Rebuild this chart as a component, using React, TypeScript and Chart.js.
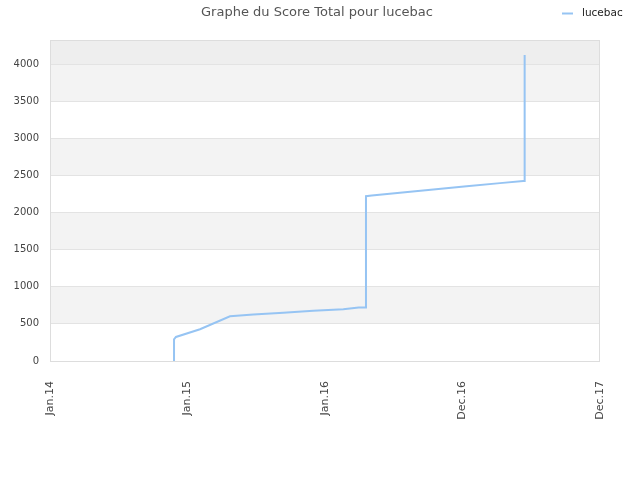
import { useEffect, useRef } from 'react';
import { Chart, registerables } from 'chart.js';

Chart.register(...registerables);

// tick labels of the x axis, one per unit
const xLabels = ['Jan.14', 'Jan.15', 'Jan.16', 'Dec.16', 'Dec.17'];

// score over time (x in tick units)
const pointX = [
  0.902, 0.902, 0.916, 1.091, 1.309, 1.479, 1.697, 1.915, 2.133, 2.245, 2.298,
  2.298, 2.340, 2.545, 2.788, 3.030, 3.273, 3.442, 3.452, 3.452,
];
const pointY = [
  0, 293, 324, 428, 602, 626, 649, 676, 698, 720, 720,
  2220, 2229, 2265, 2310, 2355, 2396, 2423, 2423, 4122,
];

const yTicks = [0, 500, 1000, 1500, 2000, 2500, 3000, 3500, 4000];
const yMax = 4324;

const seriesName = 'lucebac';
const titleText = 'Graphe du Score Total pour lucebac';
const lineColor = 'rgb(150, 196, 243)';
const font = 'DejaVu Sans';

// grey bands behind the grid, frame of the plot, title and legend
const decorPlugin = {
  id: 'decor',
  beforeDraw(chart: any) {
    const { ctx, chartArea: a, scales } = chart;
    const y = scales.y;
    ctx.save();
    for (let i = 0; i < yTicks.length; i++) {
      const from = yTicks[i];
      const to = i + 1 < yTicks.length ? yTicks[i + 1] : yMax;
      let color = i % 2 === 1 ? '#f3f3f3' : '#ffffff';
      if (i === yTicks.length - 1) color = '#eeeeee';
      ctx.fillStyle = color;
      const top = y.getPixelForValue(to);
      const bottom = y.getPixelForValue(from);
      ctx.fillRect(a.left, top, a.right - a.left, bottom - top);
    }
    ctx.restore();
  },
  beforeDatasetsDraw(chart: any) {
    const { ctx, chartArea: a } = chart;
    ctx.save();
    ctx.strokeStyle = '#dddddd';
    ctx.lineWidth = 1;
    ctx.strokeRect(a.left + 0.5, a.top + 0.5, a.right - a.left - 1, a.bottom - a.top);
    ctx.restore();
  },
  afterDraw(chart: any) {
    const { ctx } = chart;
    ctx.save();
    ctx.fillStyle = '#555555';
    ctx.font = `13px "${font}"`;
    ctx.textAlign = 'center';
    ctx.textBaseline = 'middle';
    ctx.fillText(titleText, 317, 12.5);

    ctx.strokeStyle = lineColor;
    ctx.lineWidth = 2;
    ctx.beginPath();
    ctx.moveTo(562, 13.5);
    ctx.lineTo(573, 13.5);
    ctx.stroke();
    ctx.fillStyle = '#222222';
    ctx.font = `10.5px "${font}"`;
    ctx.textAlign = 'left';
    ctx.fillText(seriesName, 582, 13);
    ctx.restore();
  },
};

export default function App() {
  const canvasRef = useRef<HTMLCanvasElement>(null);

  useEffect(() => {
    if (!canvasRef.current) return;
    const chart = new Chart(canvasRef.current, {
      type: 'line',
      data: {
        datasets: [
          {
            label: seriesName,
            data: pointX.map((x, i) => ({ x, y: pointY[i] })),
            borderColor: lineColor,
            borderWidth: 2,
            pointRadius: 0,
            fill: false,
            tension: 0,
          },
        ],
      },
      options: {
        animation: false,
        responsive: true,
        maintainAspectRatio: false,
        layout: { padding: { left: 0, right: 40, top: 40, bottom: 0 } },
        plugins: {
          legend: { display: false },
          tooltip: { enabled: false },
          title: { display: false },
        },
        scales: {
          x: {
            type: 'linear',
            min: 0,
            max: 4,
            afterFit: (s: any) => {
              s.height = 119;
            },
            grid: { display: false },
            border: { display: false },
            ticks: {
              stepSize: 1,
              minRotation: 90,
              maxRotation: 90,
              padding: 12,
              color: '#444444',
              font: { family: font, size: 11 },
              callback: (v: any) => xLabels[Number(v)] ?? '',
            },
          },
          y: {
            type: 'linear',
            min: 0,
            max: yMax,
            afterFit: (s: any) => {
              s.width = 50;
            },
            afterBuildTicks: (s: any) => {
              s.ticks = yTicks.map((v) => ({ value: v }));
            },
            grid: { color: '#e3e3e3', drawTicks: false },
            border: { display: false },
            ticks: {
              padding: 11,
              color: '#444444',
              font: { family: font, size: 10 },
              callback: (v: any) => String(v),
            },
          },
        },
      },
      plugins: [decorPlugin],
    });
    return () => chart.destroy();
  }, []);

  return (
    <div style={{ position: 'absolute', left: 0, top: 0, width: 640, height: 480 }}>
      <canvas ref={canvasRef} />
    </div>
  );
}
